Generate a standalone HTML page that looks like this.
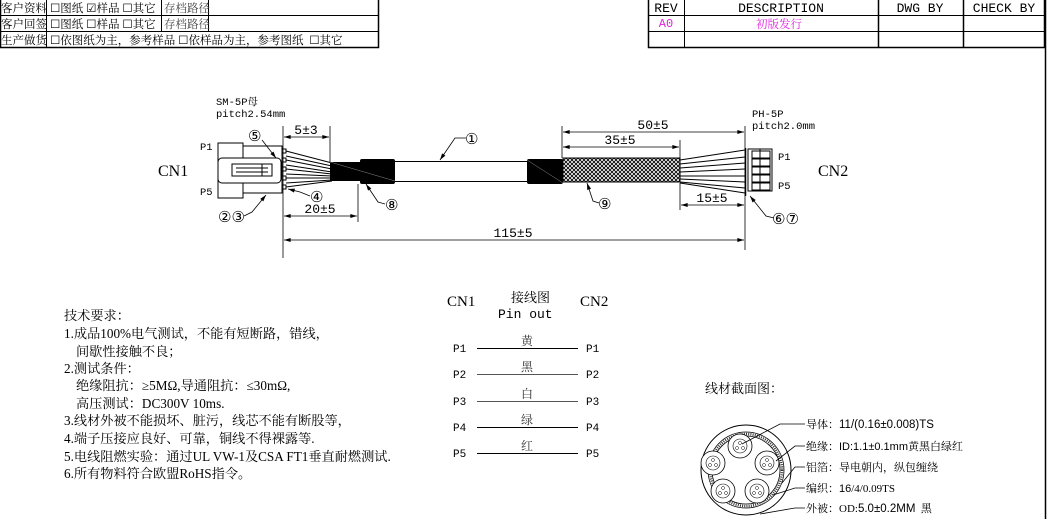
<!DOCTYPE html>
<html><head><meta charset="utf-8"><style>
html,body{margin:0;padding:0;background:#fff;}
svg{display:block;}
.s{font-family:"Liberation Serif","Noto Serif CJK SC",serif;}
.m{font-family:"Liberation Mono","DejaVu Sans Mono",monospace;}
.c{font-family:"Liberation Serif","Noto Serif CJK SC","Noto Sans CJK SC",serif;}
</style></head><body>
<svg width="1053" height="519" viewBox="0 0 1053 519" xmlns="http://www.w3.org/2000/svg">
<defs>
<pattern id="br" width="4" height="4" patternUnits="userSpaceOnUse">
<rect width="4" height="4" fill="#fff"/><path d="M0 0L4 4M4 0L0 4" stroke="#000" stroke-width="0.9"/>
</pattern>
<marker id="a" viewBox="0 0 10 6" refX="10" refY="3" markerWidth="9" markerHeight="5" orient="auto-start-reverse"><path d="M0 0L10 3L0 6z" fill="#000"/></marker>
<g id="core"><circle r="12" fill="#fff" stroke="#000" stroke-width="0.8"/><circle r="7" fill="none" stroke="#000" stroke-width="0.6"/><circle cx="0" cy="-3" r="1.5" fill="none" stroke="#000" stroke-width="0.5"/><circle cx="-3" cy="2" r="1.5" fill="none" stroke="#000" stroke-width="0.5"/><circle cx="3" cy="2" r="1.5" fill="none" stroke="#000" stroke-width="0.5"/></g>
</defs>
<g fill="none" stroke="#000" stroke-width="1">
<rect x="0.5" y="-1" width="378" height="48.5" stroke-width="1.5"/>
<line x1="0" y1="15.5" x2="378" y2="15.5"/><line x1="0" y1="31.5" x2="378" y2="31.5"/>
<line x1="46.5" y1="0" x2="46.5" y2="47"/>
<line x1="161.5" y1="0" x2="161.5" y2="31"/><line x1="208.5" y1="0" x2="208.5" y2="31"/>
<rect x="648.5" y="-1" width="396" height="48.5" stroke-width="1.5"/>
<line x1="648" y1="15.5" x2="1045" y2="15.5"/><line x1="648" y1="31.5" x2="1045" y2="31.5"/>
<line x1="684.5" y1="0" x2="684.5" y2="47"/><line x1="878.5" y1="0" x2="878.5" y2="47" stroke-width="1.5"/><line x1="963.5" y1="0" x2="963.5" y2="47" stroke-width="1.5"/>
<line x1="1045.5" y1="0" x2="1045.5" y2="519" stroke-width="1.5"/>
</g>
<g class="c" font-size="11.5" fill="#000">
<text x="1" y="12">客户资料</text><text x="50" y="12">☐图纸 ☑样品 ☐其它</text><text x="164" y="12" fill="#444">存档路径</text>
<text x="1" y="28">客户回签</text><text x="50" y="28">☐图纸 ☐样品 ☐其它</text><text x="164" y="28" fill="#444">存档路径</text>
<text x="1" y="44">生产做货</text><text x="50" y="44">☐依图纸为主，参考样品 ☐依样品为主，参考图纸 &#160;☐其它</text>
</g>
<g class="m" font-size="13" fill="#000" text-anchor="middle">
<text x="666" y="12">REV</text><text x="781" y="12">DESCRIPTION</text><text x="920" y="12">DWG BY</text><text x="1004" y="12">CHECK BY</text>
<text x="666" y="27" fill="#e020e0" font-size="12">A0</text>
</g>
<text x="756" y="28" class="c" font-size="11.5" fill="#e020e0">初版发行</text>

<g class="s" font-size="16" fill="#000"><text x="158" y="176">CN1</text><text x="818" y="176">CN2</text></g>
<g class="m" font-size="10.5" fill="#000">
<text x="216" y="105">SM-5P<tspan class="c">母</tspan></text><text x="216" y="117">pitch2.54mm</text>
<text x="752" y="117">PH-5P</text><text x="752" y="129">pitch2.0mm</text>
<text x="200" y="150">P1</text><text x="200" y="195">P5</text>
<text x="778" y="160">P1</text><text x="778" y="189">P5</text>
</g>
<g fill="none" stroke="#000" stroke-width="1">
<rect x="218" y="143" width="25" height="55"/>
<rect x="243" y="146" width="39" height="47"/>
<rect x="218" y="158" width="63" height="25" rx="4" fill="#fff"/>
<rect x="232" y="164" width="40" height="12"/><line x1="236" y1="168" x2="268" y2="168"/><line x1="236" y1="172" x2="268" y2="172"/><line x1="262" y1="164" x2="262" y2="176"/>
<rect x="282" y="149" width="4" height="4"/><rect x="282" y="158" width="4" height="4"/><rect x="282" y="167" width="4" height="4"/><rect x="282" y="176" width="4" height="4"/><rect x="282" y="185" width="4" height="4"/>
<path d="M286 151L332 163M286 156L332 166M286 160L332 169M286 165L332 172M286 169L332 174M286 174L332 176M286 178L332 178M286 183L332 180M286 187L332 181"/>
<line x1="395" y1="161.5" x2="527" y2="161.5"/><line x1="395" y1="181.5" x2="527" y2="181.5"/>
<path d="M680 160L745 150M680 164L745 157M680 168L745 163M680 172L745 169M680 176L745 176M680 179L745 182M680 182L745 188M680 183L745 193"/>
<line x1="745.5" y1="148" x2="745.5" y2="196" stroke-width="1.5"/>
<rect x="748" y="149" width="24" height="42"/>
<rect x="752" y="151" width="18" height="7"/><rect x="752" y="159" width="18" height="7"/><rect x="752" y="167" width="18" height="7"/><rect x="752" y="175" width="18" height="7"/><rect x="752" y="183" width="18" height="7"/>
<line x1="760" y1="149" x2="760" y2="191"/>
</g>
<rect x="330" y="162" width="65" height="19" fill="#000"/>
<rect x="360" y="159" width="35" height="25" rx="2" fill="#000"/>
<line x1="330" y1="162" x2="395" y2="181" stroke="#888" stroke-width="0.5"/>
<rect x="527" y="159" width="36" height="25" rx="2" fill="#000"/>
<line x1="527" y1="160" x2="563" y2="183" stroke="#888" stroke-width="0.5"/>
<rect x="563" y="158" width="117" height="24" fill="url(#br)" stroke="#000"/>

<g fill="none" stroke="#000" stroke-width="0.8">
<line x1="283" y1="126" x2="283" y2="258"/><line x1="330" y1="126" x2="330" y2="162"/>
<line x1="358" y1="184" x2="358" y2="222"/><line x1="562" y1="126" x2="562" y2="158"/>
<line x1="680" y1="140" x2="680" y2="158"/><line x1="680" y1="183" x2="680" y2="210"/>
<line x1="745" y1="126" x2="745" y2="250"/>
<line x1="284" y1="137" x2="329" y2="137" marker-start="url(#a)" marker-end="url(#a)"/>
<line x1="284" y1="216" x2="357" y2="216" marker-start="url(#a)" marker-end="url(#a)"/>
<line x1="284" y1="240" x2="744" y2="240" marker-start="url(#a)" marker-end="url(#a)"/>
<line x1="563" y1="132" x2="744" y2="132" marker-start="url(#a)" marker-end="url(#a)"/>
<line x1="563" y1="147" x2="679" y2="147" marker-start="url(#a)" marker-end="url(#a)"/>
<line x1="681" y1="205" x2="744" y2="205" marker-start="url(#a)" marker-end="url(#a)"/>
<path d="M466 138L455 138L440 160" marker-end="url(#a)"/>
<path d="M262 140L276 158" marker-end="url(#a)"/>
<path d="M310 196L300 192L288 189" marker-end="url(#a)"/>
<path d="M385 204L378 202L366 184" marker-end="url(#a)"/>
<path d="M244 216L252 212L266 195" marker-end="url(#a)"/>
<path d="M599 203L593 201L587 183" marker-end="url(#a)"/>
<path d="M774 218L766 216L750 196" marker-end="url(#a)"/>
</g>
<g class="m" font-size="13" fill="#000" text-anchor="middle">
<text x="306" y="134">5±3</text><text x="320" y="213">20±5</text><text x="513" y="237">115±5</text>
<text x="653" y="129">50±5</text><text x="620" y="144">35±5</text><text x="712" y="202">15±5</text>
</g>
<g font-family="DejaVu Sans,sans-serif" font-size="15" fill="#000">
<text x="465" y="144">①</text><text x="248" y="141">⑤</text><text x="310" y="202">④</text><text x="385" y="210">⑧</text>
<text x="218" y="222">②③</text><text x="598" y="209">⑨</text><text x="772" y="224">⑥⑦</text>
</g>

<g class="s" font-size="15" fill="#000"><text x="447" y="306">CN1</text><text x="580" y="306">CN2</text></g>
<text x="511" y="302" class="c" font-size="13">接线图</text>
<text x="498" y="318" class="m" font-size="13">Pin out</text>
<g class="m" font-size="11" fill="#000">
<text x="453" y="352">P1</text><text x="586" y="352">P1</text>
<text x="453" y="378">P2</text><text x="586" y="378">P2</text>
<text x="453" y="405">P3</text><text x="586" y="405">P3</text>
<text x="453" y="431">P4</text><text x="586" y="431">P4</text>
<text x="453" y="457">P5</text><text x="586" y="457">P5</text>
</g>
<g stroke="#000" stroke-width="1"><line x1="477" y1="348.5" x2="578" y2="348.5"/><line x1="477" y1="374.5" x2="578" y2="374.5" stroke="#555"/><line x1="477" y1="401.5" x2="578" y2="401.5" stroke="#555"/><line x1="477" y1="427.5" x2="578" y2="427.5"/><line x1="477" y1="453.5" x2="578" y2="453.5"/></g>
<g class="c" font-size="12" fill="#333" text-anchor="middle">
<text x="527" y="345">黄</text><text x="527" y="371">黑</text><text x="527" y="398">白</text><text x="527" y="424">绿</text><text x="527" y="450">红</text>
</g>

<g class="c" font-size="13.2" fill="#000">
<text x="64" y="320">技术要求：</text>
<text x="64" y="338">1.成品100%电气测试，不能有短断路，错线，</text>
<text x="76" y="356">间歇性接触不良；</text>
<text x="64" y="373">2.测试条件：</text>
<text x="76" y="390">绝缘阻抗：≥5MΩ,导通阻抗：≤30mΩ,</text>
<text x="76" y="408">高压测试：DC300V 10ms.</text>
<text x="64" y="425">3.线材外被不能损坏、脏污，线芯不能有断股等，</text>
<text x="64" y="443">4.端子压接应良好、可靠，铜线不得裸露等.</text>
<text x="64" y="461">5.电线阻燃实验：通过UL VW-1及CSA FT1垂直耐燃测试.</text>
<text x="64" y="478">6.所有物料符合欧盟RoHS指令。</text>
</g>

<text x="705" y="393" class="c" font-size="13">线材截面图：</text>
<g fill="none" stroke="#000">
<circle cx="746" cy="470" r="45" stroke-width="1"/>
<circle cx="746" cy="470" r="38" stroke-width="0.8"/>
<circle cx="746" cy="470" r="36" stroke-width="2.5" stroke-dasharray="1 1.2" stroke="#333"/>
<circle cx="746" cy="470" r="34" stroke-width="0.8"/>
</g>
<use href="#core" x="740" y="446"/><use href="#core" x="767" y="463"/><use href="#core" x="713" y="463"/><use href="#core" x="723" y="491"/><use href="#core" x="757" y="491"/>
<g fill="none" stroke="#000">
<path d="M805 424L780 424L742 444M805 446L795 446L776 461M805 467L795 467L782 483M805 488L795 488L773 495M805 508L795 508L760 514" stroke-width="0.8"/>
</g>
<g class="c" font-size="11" fill="#000">
<text x="806" y="428">导体：<tspan font-family="Liberation Sans,sans-serif" font-size="11.5">11/(0.16±0.008)TS</tspan></text>
<text x="806" y="450">绝缘：<tspan font-family="Liberation Sans,sans-serif">ID:1.1±0.1mm</tspan>黄黑白绿红</text>
<text x="806" y="471">铝箔：导电朝内，纵包缠绕</text>
<text x="806" y="492">编织：<tspan font-family="Liberation Sans,sans-serif">16</tspan>/4/0.09TS</text>
<text x="806" y="512">外被：OD:<tspan font-family="Liberation Sans,sans-serif" font-size="11.5">5.0±0.2MM</tspan> &#160;黑</text>
</g>
</svg>
</body></html>
